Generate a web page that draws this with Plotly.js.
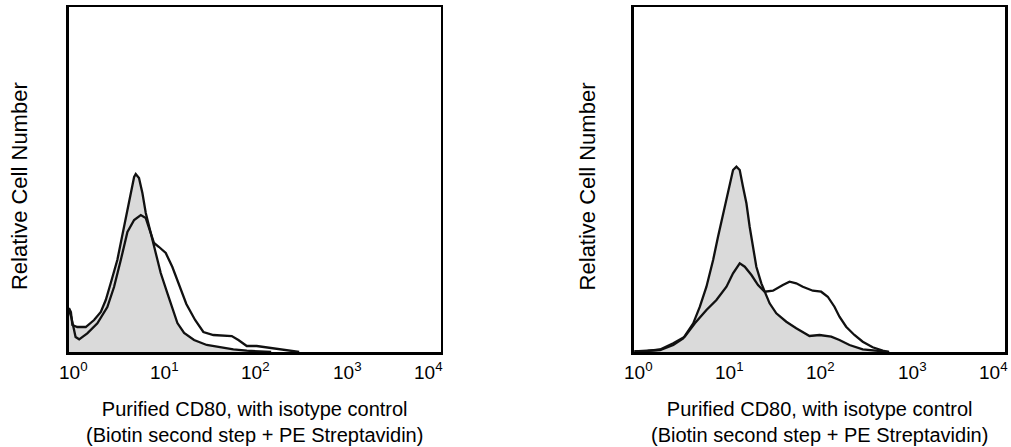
<!DOCTYPE html>
<html>
<head>
<meta charset="utf-8">
<script src="https://cdn.plot.ly/plotly-3.0.1.min.js"></script>
<style>
html,body{margin:0;padding:0;background:#fff;}
#chart{width:1011px;height:447px;}
</style>
</head>
<body>
<div id="chart"></div>
<script>
// Left panel: isotype control (gray filled) and CD80 (open line)
var leftIsoX = [1.01, 1.06, 1.10, 1.24, 1.53, 1.88, 2.22, 2.51, 2.84, 3.34, 3.94, 4.47, 5.06, 5.27, 5.71, 6.21, 6.75, 7.64, 8.65, 9.77, 11.51, 13.03, 14.76, 17.42, 22.28, 30.48, 42.36, 58.88, 82.04, 114.0, 150];
var leftIsoY = [44, 40, 27, 25, 25, 32, 40, 52, 69, 92, 125, 152, 175, 178, 174, 159, 139, 119, 99, 79, 59, 45, 29, 19, 12, 7, 4.7, 2.7, 1.3, 0.7, 0];
var leftCd80X = [1.01, 1.07, 1.19, 1.30, 1.59, 2.04, 2.61, 3.08, 3.64, 4.29, 5.06, 5.97, 6.75, 7.64, 8.28, 9.38, 11.07, 13.03, 15.49, 18.41, 22.86, 28.05, 35.89, 45.0, 56.62, 66.68, 82.04, 104.9, 134.6, 187.1, 260.0, 300];
var leftCd80Y = [42, 35, 15, 12.7, 18.7, 28.7, 45, 65, 92, 120, 132, 137, 134, 119, 109, 105, 99, 85, 66, 48, 32, 20, 17, 16.5, 16, 12, 6, 6, 4.7, 2.7, 1.3, 0];

// Right panel
var rightIsoX = [1.01, 1.49, 1.91, 2.65, 3.39, 4.35, 5.13, 6.04, 7.13, 8.05, 9.12, 10.33, 11.69, 12.71, 13.80, 14.96, 16.29, 17.66, 19.19, 20.84, 23.60, 26.73, 28.97, 34.20, 43.85, 56.10, 77.98, 100.0, 133.7, 164.1, 210.4, 292.4, 407.4, 562];
var rightIsoY = [0.5, 1.3, 2, 7, 13.7, 28.7, 45.3, 65.3, 92, 115.3, 138.7, 162, 182, 185.3, 182, 165.3, 148.7, 125.3, 105.3, 85.3, 68.7, 55.3, 48.7, 38.7, 30.3, 23.7, 16, 17, 15.3, 12, 7, 2.7, 1.3, 0];
var rightCd80X = [1.01, 1.40, 1.91, 2.65, 3.53, 4.53, 6.04, 7.74, 9.93, 11.69, 13.80, 15.63, 18.45, 21.73, 25.64, 31.48, 40.27, 47.53, 56.10, 66.07, 84.72, 104.2, 122.7, 144.9, 164.1, 193.6, 237.7, 292.4, 374.1, 479.7, 562];
var rightCd80Y = [0.5, 1, 2.5, 8.7, 15.3, 28.7, 42, 52, 65.3, 78.7, 88.7, 85.3, 77, 67, 60.3, 61.3, 67, 70.3, 68.7, 65.3, 61.3, 60.3, 55.3, 45.3, 35.3, 25.3, 17, 10.3, 4.7, 1.3, 0];

var tickVals = [1, 10, 100, 1000, 10000];
var tickText = ['10<sup>0</sup>', '10<sup>1</sup>', '10<sup>2</sup>', '10<sup>3</sup>', '10<sup>4</sup>'];
var xTitle = 'Purified CD80, with isotype control<br>(Biotin second step + PE Streptavidin)';
var yTitle = 'Relative Cell Number';

var fontFam = 'Liberation Sans, Arial, Helvetica, sans-serif';
var lineW = 2.3;

var traces = [
  {x: leftIsoX, y: leftIsoY, xaxis: 'x', yaxis: 'y', type: 'scatter', mode: 'lines',
   fill: 'tozeroy', fillcolor: '#dadada', line: {color: '#111', width: lineW}, hoverinfo: 'skip'},
  {x: leftCd80X, y: leftCd80Y, xaxis: 'x', yaxis: 'y', type: 'scatter', mode: 'lines',
   line: {color: '#111', width: lineW}, hoverinfo: 'skip'},
  {x: rightIsoX, y: rightIsoY, xaxis: 'x2', yaxis: 'y2', type: 'scatter', mode: 'lines',
   fill: 'tozeroy', fillcolor: '#dadada', line: {color: '#111', width: lineW}, hoverinfo: 'skip'},
  {x: rightCd80X, y: rightCd80Y, xaxis: 'x2', yaxis: 'y2', type: 'scatter', mode: 'lines',
   line: {color: '#111', width: lineW}, hoverinfo: 'skip'}
];

function xAx(dom, anchor) {
  return {domain: dom, anchor: anchor, type: 'log', range: [0, 4],
    tickvals: tickVals, showticklabels: false, ticks: '', showgrid: false, zeroline: false,
    showline: true, mirror: true, linecolor: '#000', linewidth: 2.5, fixedrange: true};
}
function yAx(anchor) {
  return {domain: [0.2125, 0.9843], anchor: anchor, range: [0, 345], showticklabels: false,
    ticks: '', showgrid: false, zeroline: false, showline: true, mirror: true,
    linecolor: '#000', linewidth: 2.5, fixedrange: true};
}

var annotations = [
  {xref: 'paper', yref: 'paper', x: 0.252, y: 0.113, xanchor: 'center', yanchor: 'top',
   text: xTitle, showarrow: false, font: {family: fontFam, size: 20, color: '#000'}},
  {xref: 'paper', yref: 'paper', x: 0.811, y: 0.113, xanchor: 'center', yanchor: 'top',
   text: xTitle, showarrow: false, font: {family: fontFam, size: 20, color: '#000'}},
  {xref: 'paper', yref: 'paper', x: 0.0195, y: 0.583, xanchor: 'center', yanchor: 'middle',
   text: yTitle, textangle: -90, showarrow: false, font: {family: fontFam, size: 22, color: '#000'}},
  {xref: 'paper', yref: 'paper', x: 0.5806, y: 0.583, xanchor: 'center', yanchor: 'middle',
   text: yTitle, textangle: -90, showarrow: false, font: {family: fontFam, size: 22, color: '#000'}}
];
// tick labels, nudged inward at the axis ends as in the reference
var tickShift = [5, 3, 1, 0, -12];
['x', 'x2'].forEach(function (ax) {
  tickVals.forEach(function (v, i) {
    annotations.push({xref: ax, yref: 'paper', x: Math.log10(v), y: 0.170,
      xanchor: 'center', yanchor: 'middle', xshift: tickShift[i], text: tickText[i],
      showarrow: false, font: {family: fontFam, size: 19, color: '#000'}});
  });
});

var layout = {
  width: 1011, height: 447,
  margin: {l: 0, r: 0, t: 0, b: 0},
  paper_bgcolor: '#fff', plot_bgcolor: '#fff',
  showlegend: false,
  xaxis: xAx([0.0678, 0.4362], 'y'),
  yaxis: yAx('x'),
  xaxis2: xAx([0.6271, 0.9941], 'y2'),
  yaxis2: yAx('x2'),
  annotations: annotations
};

Plotly.newPlot('chart', traces, layout, {staticPlot: true, displayModeBar: false});
</script>
</body>
</html>
